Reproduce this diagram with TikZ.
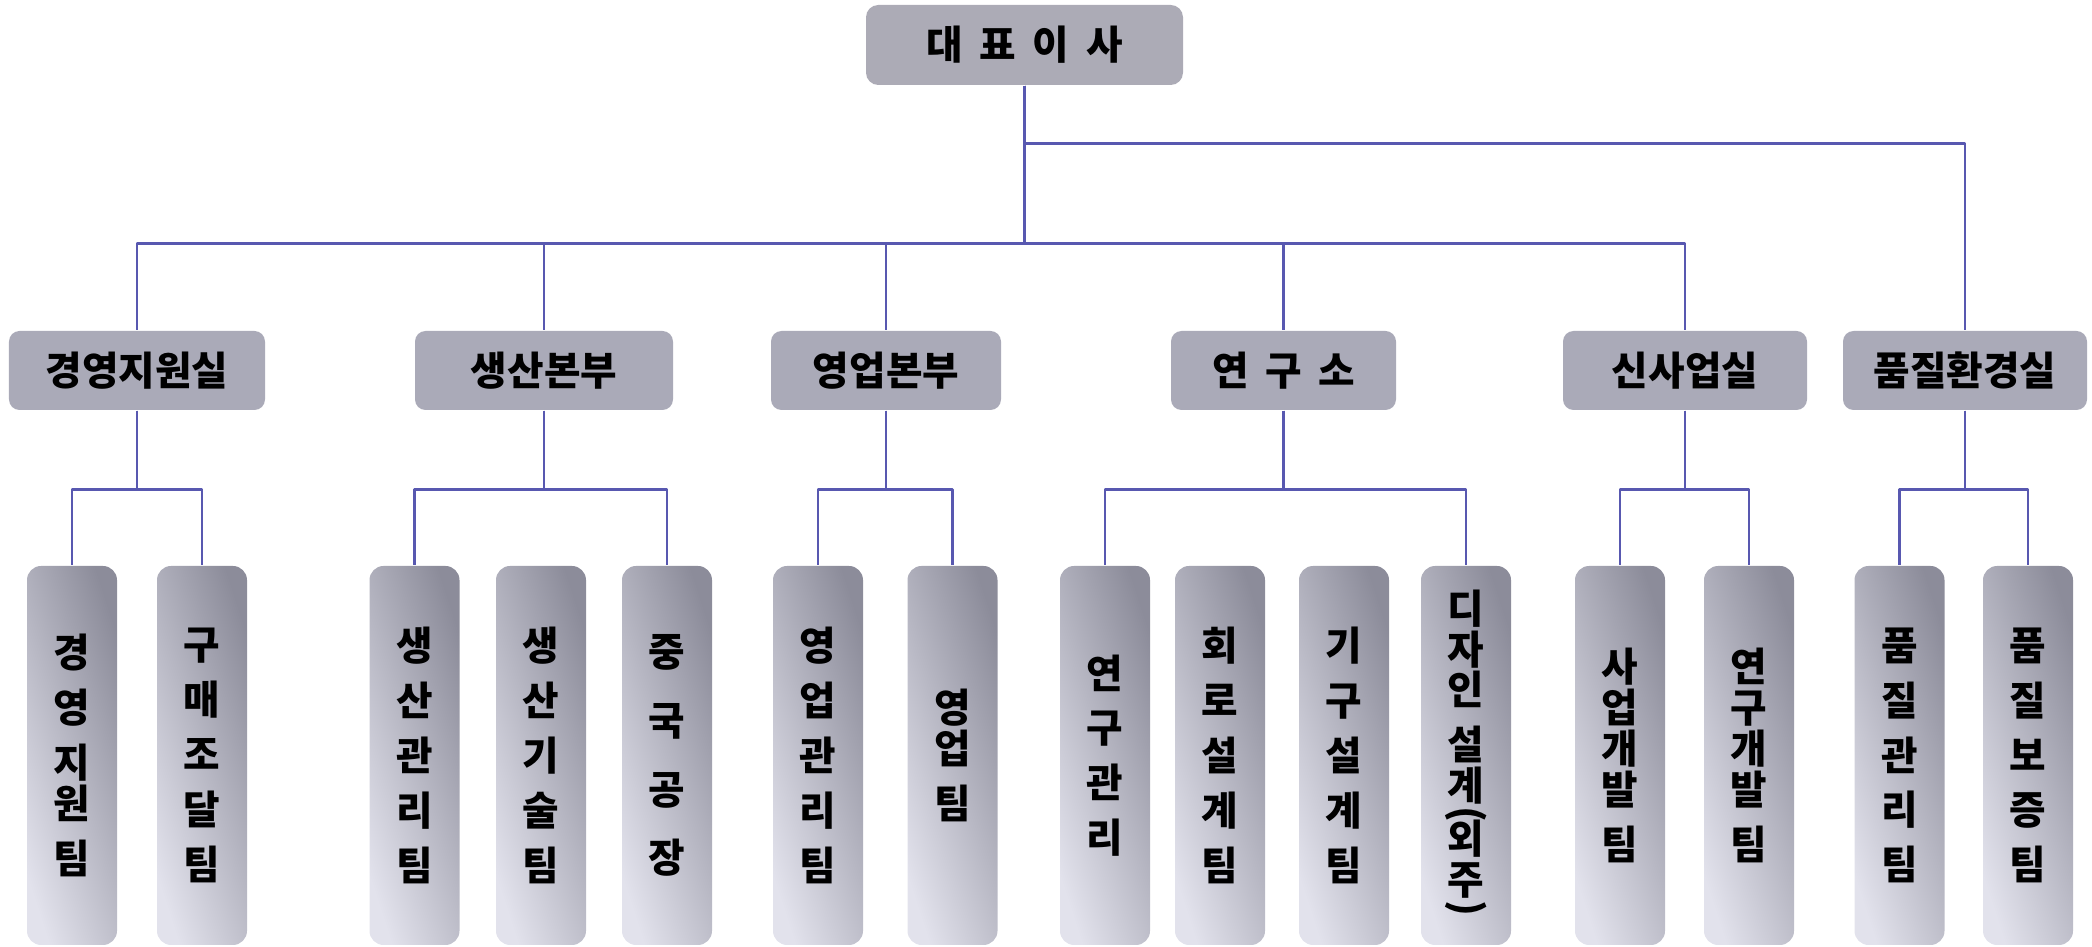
\documentclass[tikz,border=0pt]{standalone}
\usepackage{fontspec}
\usepackage{graphicx}
\setmainfont{Noto Sans CJK KR}
\definecolor{linkc}{HTML}{5858B0}
\definecolor{bossc}{HTML}{ACABB6}
\definecolor{deptc}{HTML}{AAAAB8}
\definecolor{teamdk}{HTML}{8C8C9A}
\definecolor{teamlt}{HTML}{E2E2EC}
\newcommand{\vlp}{\rotatebox[origin=c]{-90}{(}}
\newcommand{\vrp}{\rotatebox[origin=c]{-90}{)}}
\newcommand{\wsp}{\hspace{0.42em}}
\begin{document}
\begin{tikzpicture}[line join=round, font=\fontsize{11.3}{11.6}\selectfont\bfseries,
	boss/.style={fill=bossc, rounded corners=3.5pt, minimum width=3.17cm, minimum height=0.8cm},
	dept/.style={fill=deptc, rounded corners=3pt, minimum height=0.79cm},
	team/.style={top color=teamdk, bottom color=teamlt, shading angle=-72, rounded corners=4pt, minimum width=0.9cm, minimum height=3.79cm, inner sep=0pt, align=center},
	link/.style={draw=linkc, line width=0.8pt}]
	\def\yd{5.765} \def\yt{1.915} \def\ya{0.79} \def\gw{4pt}
	\useasboundingbox (0,0) rectangle (20.92,9.47);
	\node[boss] (ceo) at (10.245,9.02) {대\wsp 표\wsp 이\wsp 사};
	\path
	(1.37,\yd) node[dept, minimum width=2.56cm] (ga) {경영지원실}
	(5.44,\yd) node[dept, minimum width=2.58cm] (pr) {생산본부}
	(8.86,\yd) node[dept, minimum width=2.30cm] (sa) {영업본부}
	(12.835,\yd) node[dept, minimum width=2.25cm] (rd) {연\wsp 구\wsp 소}
	(16.85,\yd) node[dept, minimum width=2.44cm] (nb) {신사업실}
	(19.65,\yd) node[dept, minimum width=2.44cm] (qe) {품질환경실};
	\path
	(0.72,\yt) node[team] (ga1) {경\\[\gw]영\\[\gw]지\\원\\[\gw]팀}
	(2.02,\yt) node[team] (ga2) {구\\[\gw]매\\[\gw]조\\[\gw]달\\[\gw]팀}
	(4.145,\yt) node[team] (pr1) {생\\[\gw]산\\[\gw]관\\[\gw]리\\[\gw]팀}
	(5.41,\yt) node[team] (pr2) {생\\[\gw]산\\[\gw]기\\[\gw]술\\[\gw]팀}
	(6.67,\yt) node[team] (pr3) {중\\[8pt]국\\[8pt]공\\[8pt]장}
	(8.18,\yt) node[team] (sa1) {영\\[\gw]업\\[\gw]관\\[\gw]리\\[\gw]팀}
	(9.525,\yt) node[team] (sa2) {영\\업\\[\gw]팀}
	(11.05,\yt) node[team] (rd1) {연\\[\gw]구\\[\gw]관\\[\gw]리}
	(12.2,\yt) node[team] (rd2) {회\\[\gw]로\\[\gw]설\\[\gw]계\\[\gw]팀}
	(13.44,\yt) node[team] (rd3) {기\\[\gw]구\\[\gw]설\\[\gw]계\\[\gw]팀}
	(14.66,\yt) node[team] (rd4) {디\\자\\인\\[\gw]설\\계\\[-4pt]\vlp\\[-4pt]외\\주\\[-4pt]\vrp}
	(16.2,\yt) node[team] (nb1) {사\\업\\개\\발\\[\gw]팀}
	(17.49,\yt) node[team] (nb2) {연\\구\\개\\발\\[\gw]팀}
	(18.995,\yt) node[team] (qe1) {품\\[\gw]질\\[\gw]관\\[\gw]리\\[\gw]팀}
	(20.28,\yt) node[team] (qe2) {품\\[\gw]질\\[\gw]보\\[\gw]증\\[\gw]팀};
	% connectors
	\foreach \c in {ga,pr,sa,rd,nb} \draw[link] (ceo.south) -- ++(0,-1.58) -| (\c.north);
	\draw[link] (ceo.south) -- ++(0,-0.58) -| (qe.north);
	\foreach \p/\c in {ga/ga1,ga/ga2,pr/pr1,pr/pr3,sa/sa1,sa/sa2,rd/rd1,rd/rd4,nb/nb1,nb/nb2,qe/qe1,qe/qe2}
	\draw[link] (\p.south) -- ++(0,-\ya) -| (\c.north);
\end{tikzpicture}
\end{document}
